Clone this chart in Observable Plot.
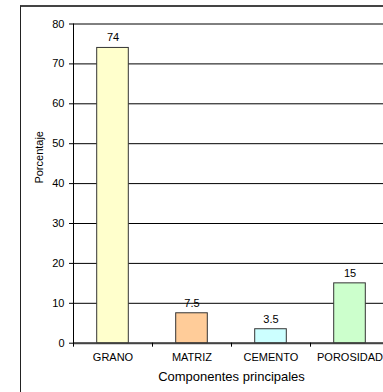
<!DOCTYPE html>
<html>
<head>
<meta charset="utf-8">
<script src="https://cdn.jsdelivr.net/npm/d3@7"></script>
<script src="https://cdn.jsdelivr.net/npm/@observablehq/plot@0.6"></script>
<style>
  html, body { margin: 0; padding: 0; background: #fff; overflow: hidden; }
  #wrap { position: relative; width: 383px; height: 392px; overflow: hidden; }
  #border { position: absolute; left: 20px; top: 5px; width: 420px; height: 420px; z-index: 2;
            border-top: 2px solid #444; border-left: 1.5px solid #222; pointer-events: none; }
  #chart { position: absolute; left: 0; top: 0; z-index: 1; }
  #chart svg { max-width: none !important; }
</style>
</head>
<body>
<div id="wrap">
  <div id="chart"></div>
  <div id="border"></div>
</div>
<script>
// Main components of the rock sample, in percent
const categories = ["GRANO", "MATRIZ", "CEMENTO", "POROSIDAD"];
const values = [74, 7.5, 3.5, 15];
const fills = ["#FFFFCC", "#FFCC99", "#CCFFFF", "#CCFFCC"];
const yTicks = [0, 10, 20, 30, 40, 50, 60, 70, 80];
const xTitle = "Componentes principales";
const yTitle = "Porcentaje";

const data = categories.map((c, i) => ({ category: c, index: i, value: values[i], fill: fills[i] }));
const boundaries = d3.range(categories.length + 1);
const centers = categories.map((c, i) => i + 0.5);

const chart = Plot.plot({
  width: 400,
  height: 392,
  marginLeft: 73,
  marginRight: 11,
  marginTop: 23.5,
  marginBottom: 49.3,
  style: { fontFamily: "'Liberation Sans', Arial, sans-serif", fontSize: "11px", color: "#000", background: "transparent", maxWidth: "none" },
  x: { type: "linear", domain: [0, categories.length] },
  y: { domain: [0, 80] },
  marks: [
    Plot.ruleY(yTicks, { stroke: "#000", strokeWidth: 1 }),
    Plot.ruleY([0], { stroke: "#444", strokeWidth: 2 }),
    Plot.frame({ anchor: "left", stroke: "#000" }),
    Plot.rectY(data, { x1: d => d.index + 0.3, x2: d => d.index + 0.7, y: "value", fill: "fill", stroke: "#333", strokeWidth: 1 }),
    Plot.text(data, { x: d => d.index + 0.5, y: "value", text: d => String(d.value), dy: -10, lineAnchor: "middle", fontSize: 11 }),
    Plot.axisY({ ticks: yTicks, tickSize: 4, tickPadding: 5, label: null, fontSize: 11 }),
    Plot.axisX({ ticks: boundaries, tickSize: 4, tickFormat: () => "", label: null }),
    Plot.axisX({ ticks: centers, tickSize: 0, tickPadding: 10, tickFormat: v => categories[Math.round(v - 0.5)], label: null, fontSize: 11 }),
    Plot.text([xTitle], { frameAnchor: "bottom", dy: 34, lineAnchor: "middle", fontSize: 13 }),
    Plot.text([yTitle], { frameAnchor: "left", rotate: -90, dx: -34, fontSize: 11 })
  ]
});
document.getElementById("chart").appendChild(chart);
</script>
</body>
</html>
